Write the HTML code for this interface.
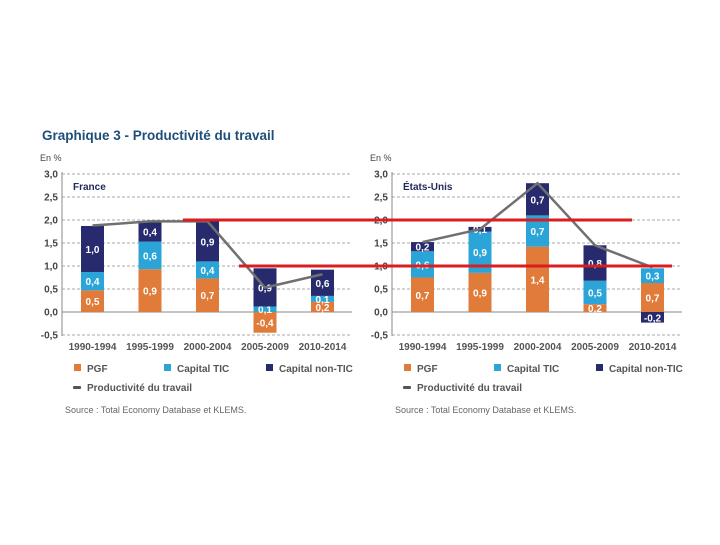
<!DOCTYPE html>
<html><head><meta charset="utf-8"><style>
body{margin:0;background:#fff;width:720px;height:540px;overflow:hidden;font-family:"Liberation Sans",sans-serif}
</style></head><body>
<svg id="svg" width="720" height="540" xmlns="http://www.w3.org/2000/svg">
<text x="42" y="140" font-size="13.5" font-weight="bold" fill="#1f4e79">Graphique 3 - Productivité du travail</text>
</svg>
<script>
const categories=["1990-1994","1995-1999","2000-2004","2005-2009","2010-2014"];
const frPGF=[0.47,0.93,0.73,-0.45,0.22];
const frTIC=[0.4,0.6,0.37,0.12,0.13];
const frNon=[1.0,0.44,0.87,0.83,0.57];
const frLine=[1.88,1.97,1.97,0.53,0.82];
const frLabPGF=["0,5","0,9","0,7","-0,4","0,2"];
const frLabTIC=["0,4","0,6","0,4","0,1","0,1"];
const frLabNon=["1,0","0,4","0,9","0,9","0,6"];
const usPGF=[0.75,0.85,1.42,0.17,0.63];
const usTIC=[0.57,0.9,0.68,0.51,0.32];
const usNon=[0.2,0.1,0.7,0.77,-0.23];
const usLine=[1.52,1.8,2.8,1.45,0.97];
const usLabPGF=["0,7","0,9","1,4","0,2","0,7"];
const usLabTIC=["0,6","0,9","0,7","0,5","0,3"];
const usLabNon=["0,2","0,1","0,7","0,8","-0,2"];
const yTicks=[3.0,2.5,2.0,1.5,1.0,0.5,0.0,-0.5];
const redLevels=[2.0,1.0];
const svg=document.getElementById('svg');
const NS="http://www.w3.org/2000/svg";
function el(t,a,txt){const e=document.createElementNS(NS,t);for(const k in a)e.setAttribute(k,a[k]);if(txt!==undefined)e.textContent=txt;svg.appendChild(e);return e;}
const y=v=>312-v*46;
const C={pgf:"#e07b39",tic:"#2ba5d8",non:"#272a6c"};
function panel(ax,name,pgf,tic,non,line,lp,lt,ln,pfx){
  const bx=i=>ax+19+i*57.5, bw=23;
  let t=el('text',{x:ax-22,y:161,'font-size':9,fill:'#444'},'En %');
  
  
  yTicks.forEach(v=>{
    let g=el('line',{x1:ax,x2:ax+290,y1:y(v),y2:y(v),stroke:v===0?'#888':'#aaa','stroke-dasharray':v===0?'':'3,2','stroke-width':1});
    
    
    let l=el('text',{x:ax-4,y:y(v)+3.5,'font-size':10,'font-weight':'bold','text-anchor':'end',fill:'#444'},v.toFixed(1).replace('.',','));
    
    
  });
  let a=el('line',{x1:ax,x2:ax,y1:172,y2:336,stroke:'#888'});
  
  
  let n=el('text',{x:ax+11,y:190,'font-size':10,'font-weight':'bold',fill:'#1f2a5a'},name);
  
  
  categories.forEach((c,i)=>{
    const x=bx(i);
    function seg(base,val,col,lab,nm){
      const y1=y(base),y2=y(base+val);
      let r=el('rect',{x:x,y:Math.min(y1,y2),width:bw,height:Math.abs(y1-y2),fill:col});
      
      
      let tx=el('text',{x:x+bw/2,y:(y1+y2)/2+4,'font-size':10,'font-weight':'bold','text-anchor':'middle',fill:'#fff'},lab);
      
      
    }
    let pos=0;
    seg(0,pgf[i],C.pgf,lp[i],'pgf');
    let base=pgf[i]>0?pgf[i]:0;
    seg(base,tic[i],C.tic,lt[i],'tic');
    base+=tic[i];
    if(non[i]>=0)seg(base,non[i],C.non,ln[i],'non-tic');else seg(0,non[i],C.non,ln[i],'non-tic');
    let xl=el('text',{x:x+bw/2,y:350,'font-size':10,'font-weight':'bold','text-anchor':'middle',fill:'#555'},c);
    
    
  });
  let pts=line.map((v,i)=>(bx(i)+bw/2)+','+y(v)).join(' ');
  let pl=el('polyline',{points:pts,fill:'none',stroke:'#707070','stroke-width':2.5});
  
  
  const leg=[[C.pgf,'PGF',ax+20],[C.tic,'Capital TIC',ax+110],[C.non,'Capital non-TIC',ax+212]];
  leg.forEach(L=>{
    let s=el('rect',{x:L[2]-8,y:364,width:7,height:7,fill:L[0]});
    
    
    let tt=el('text',{x:L[2]+5,y:372,'font-size':10,'font-weight':'bold',fill:'#555'},L[1]);
    
    
  });
  let ls=el('rect',{x:ax+11,y:386,width:8,height:3,fill:'#555',rx:1});
  
  
  let lt2=el('text',{x:ax+25,y:391,'font-size':10,'font-weight':'bold',fill:'#555'},'Productivité du travail');
  
  
  let src=el('text',{x:ax+3,y:413,'font-size':9,fill:'#666'},'Source : Total Economy Database et KLEMS.');
  
  
}
panel(62,'France',frPGF,frTIC,frNon,frLine,frLabPGF,frLabTIC,frLabNon,'france');
panel(392,'États-Unis',usPGF,usTIC,usNon,usLine,usLabPGF,usLabTIC,usLabNon,'usa');
const redX=[[183,632],[239,672]];
redLevels.forEach((v,i)=>{
  let r=el('line',{x1:redX[i][0],x2:redX[i][1],y1:y(v),y2:y(v),stroke:'#d81e1e','stroke-width':3});
  
  
});
</script>
</body></html>
